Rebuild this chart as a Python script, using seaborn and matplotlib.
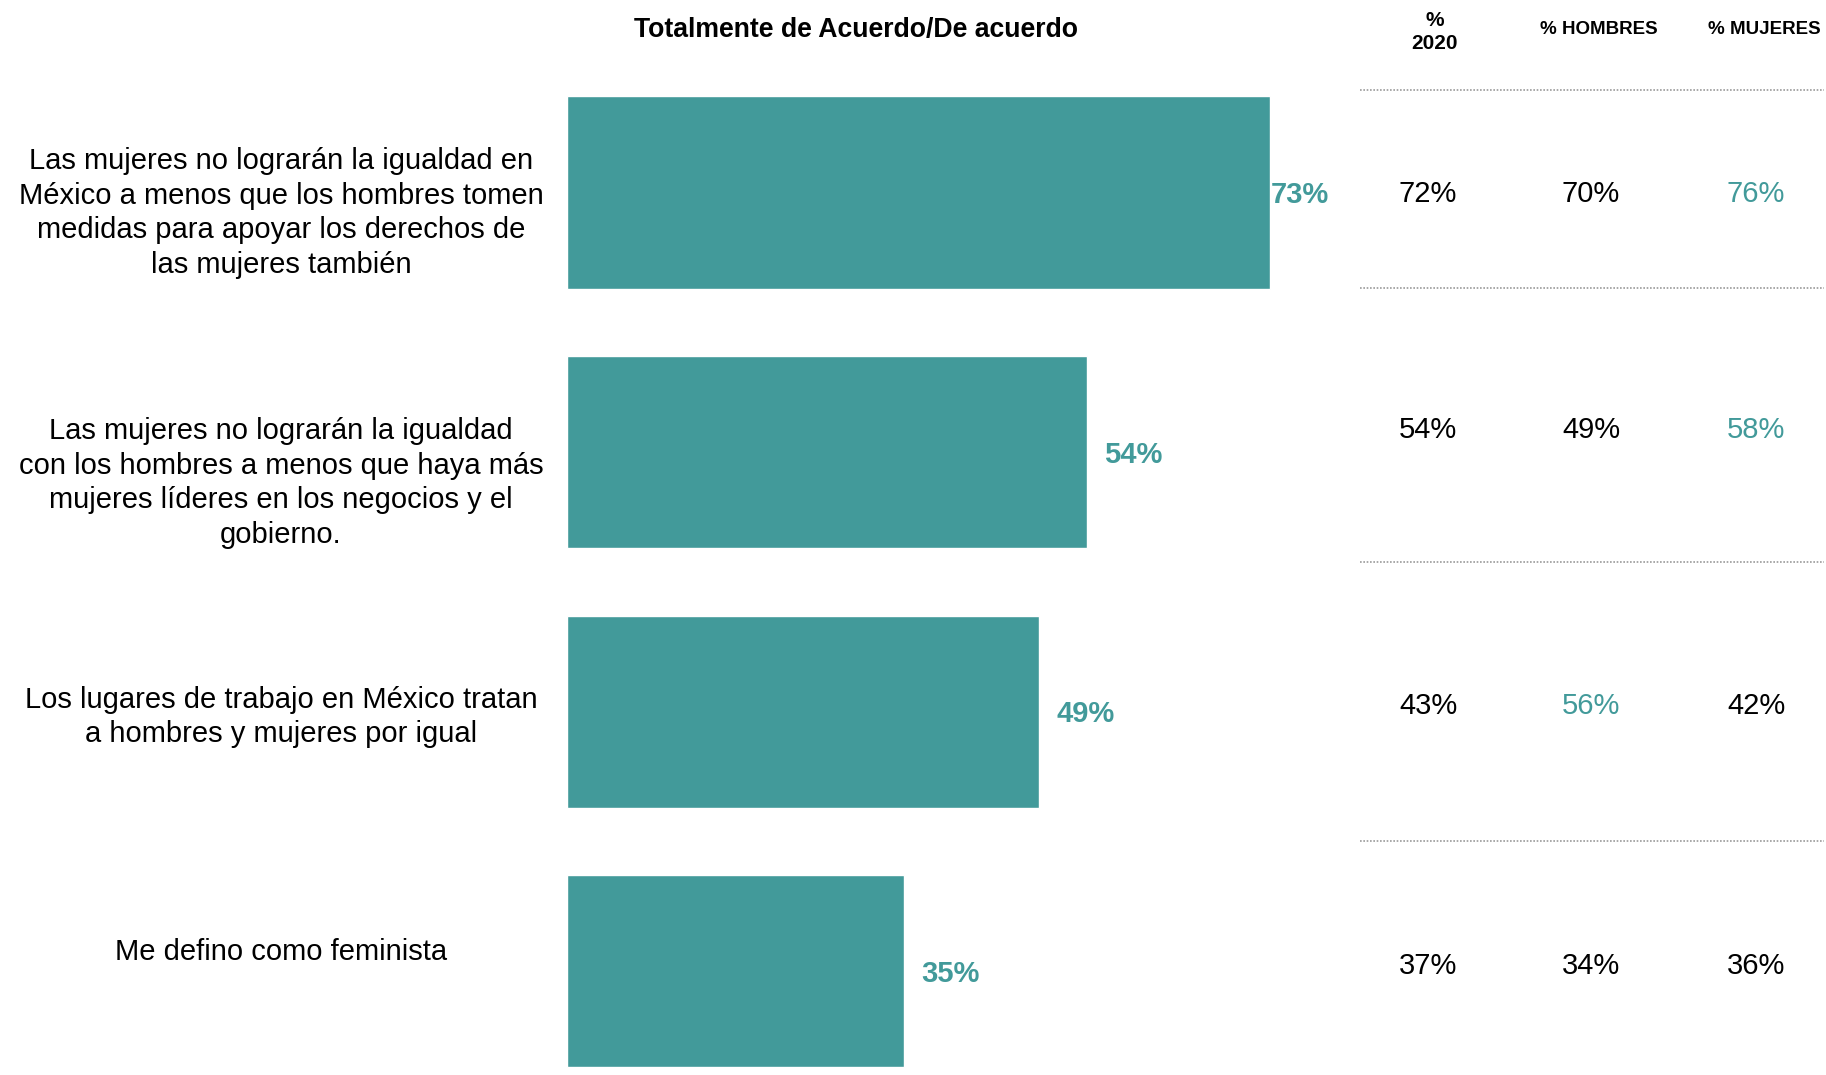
import matplotlib
matplotlib.use("Agg")
import matplotlib.pyplot as plt
import pandas as pd
import seaborn as sns

# ---- data -------------------------------------------------------------
statements = [
    "Las mujeres no lograrán la igualdad en\nMéxico a menos que los hombres tomen\n"
    "medidas para apoyar los derechos de\nlas mujeres también",
    "Las mujeres no lograrán la igualdad\ncon los hombres a menos que haya más\n"
    "mujeres líderes en los negocios y el\ngobierno.",
    "Los lugares de trabajo en México tratan\na hombres y mujeres por igual",
    "Me defino como feminista",
]
agree_total = [73, 54, 49, 35]
agree_2020 = [72, 54, 43, 37]
agree_men = [70, 49, 56, 34]
agree_women = [76, 58, 42, 36]
highlight_men = [False, False, True, False]
highlight_women = [True, True, False, False]
column_headers = ["%\n2020", "% HOMBRES", "% MUJERES"]
chart_title = "Totalmente de Acuerdo/De acuerdo"

# ---- style ------------------------------------------------------------
TEAL = "#429A9A"
W, H = 1826, 1075
sns.set_theme(style="white")
plt.rcParams["font.family"] = ["Liberation Sans", "DejaVu Sans"]
plt.rcParams["text.color"] = "black"

fig = plt.figure(figsize=(W / 100, H / 100), dpi=100)

# bar panel: x=0 at 567 px, 9.63 px per percentage point
px_per_pct = 9.63
x_max = 80
ax_top_px = 62.75
ax = fig.add_axes([567 / W, 0, x_max * px_per_pct / W, (H - ax_top_px) / H])

df = pd.DataFrame({"statement": statements, "total": agree_total})
sns.barplot(data=df, x="total", y="statement", orient="h", color=TEAL,
            saturation=1, width=0.74, ax=ax)
ax.set_xlim(0, x_max)
ax.set_ylim(3.40, -0.5)
ax.axis("off")

label_pad = [0.05, 1.8, 1.8, 1.8]
for bar, val, pad in zip(ax.patches, agree_total, label_pad):
    yc = bar.get_y() + bar.get_height() / 2 + 0.01
    ax.text(bar.get_width() + pad, yc, f"{val}%", color=TEAL, fontsize=21,
            fontweight="bold", ha="left", va="center")

# overlay canvas in pixel coordinates for labels and the side table
canvas = fig.add_axes([0, 0, 1, 1], facecolor="none")
canvas.set_xlim(0, W)
canvas.set_ylim(H, 0)
canvas.axis("off")

canvas.text(856, 29.5, chart_title, fontsize=19.2, fontweight="bold",
            ha="center", va="center")

label_y = [213, 483, 717, 952]
for txt, y in zip(statements, label_y):
    canvas.text(281, y, txt, fontsize=21, ha="center", va="center",
                linespacing=1.31)

# side table
header_x = [1435, 1599, 1764]
header_y = [32, 30, 30]
header_size = [15, 13.5, 13.5]
for hx, hy, hdr, fs in zip(header_x, header_y, column_headers, header_size):
    canvas.text(hx, hy, hdr, fontsize=fs, fontweight="bold", ha="center",
                va="center", linespacing=1.3)

rule_y = [90, 288, 562, 841]
for ry in rule_y:
    canvas.plot([1360, 1824], [ry, ry], color="#9a9a9a", lw=1.2,
                linestyle=(0, (1, 1)))

row_y = [193.5, 429.5, 706.5, 965.5]
col_x = [1428, 1591, 1756]
columns = [
    (agree_2020, [False] * len(agree_2020)),
    (agree_men, highlight_men),
    (agree_women, highlight_women),
]
for cx, (vals, hl) in zip(col_x, columns):
    for ry, v, h in zip(row_y, vals, hl):
        canvas.text(cx, ry, f"{v}%", fontsize=21, ha="center", va="center",
                    color=TEAL if h else "black")

fig.savefig("out.png", dpi=100)
